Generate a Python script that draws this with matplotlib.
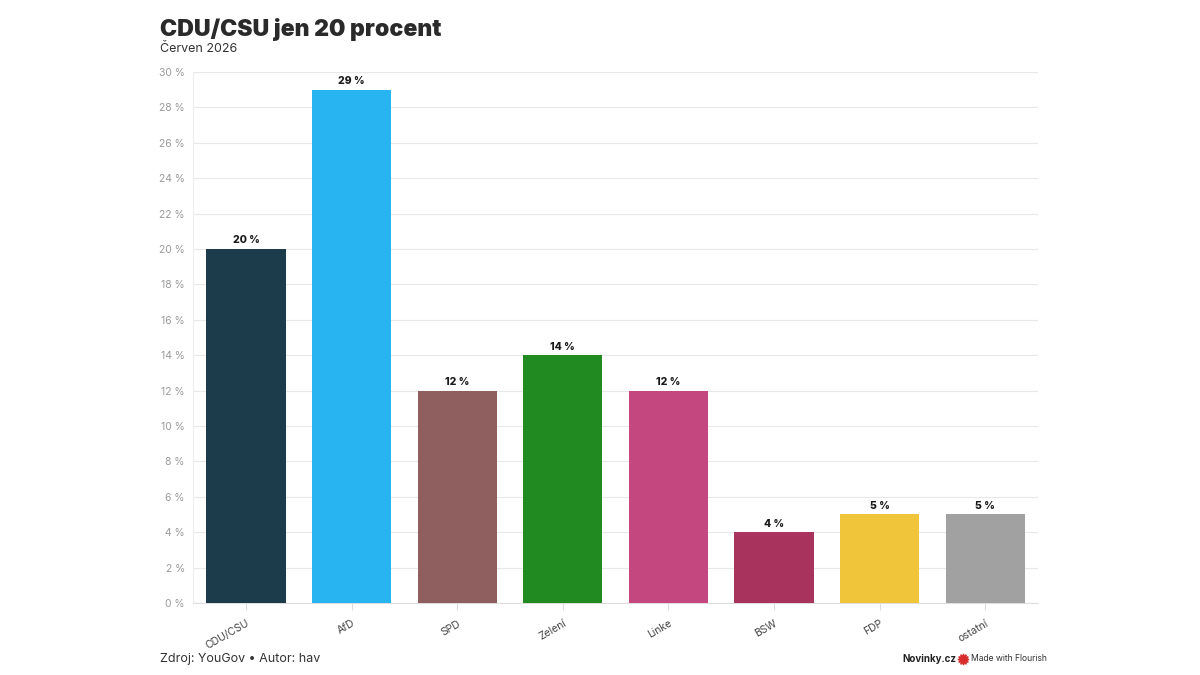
import matplotlib
matplotlib.use("Agg")
import matplotlib.pyplot as plt
from matplotlib.lines import Line2D

parties = ["CDU/CSU", "AfD", "SPD", "Zelení", "Linke", "BSW", "FDP", "ostatní"]
values = [20, 29, 12, 14, 12, 4, 5, 5]
colors = ["#1c3b4b", "#27b4f1", "#8f5f5f", "#218b22", "#c4487f", "#a8335c", "#f0c53a", "#a1a1a1"]
yticks = list(range(0, 31, 2))

plt.rcParams['font.family'] = ['Inter', 'DejaVu Sans']

fig = plt.figure(figsize=(12, 6.75), dpi=100)
ax = fig.add_axes([0.161, 0.1067, 0.704, 0.7866])

x = range(len(parties))
ax.bar(x, values, width=0.75, color=colors, zorder=3)
for i, v in enumerate(values):
    ax.text(i, v + 0.2, f"{v} %", ha='center', va='bottom', fontsize=7.5,
            fontweight='heavy', color='#1a1a1a')

ax.set_xlim(-0.5, 7.5)
ax.set_ylim(0, 30)
ax.set_yticks(yticks)
ax.set_yticklabels([f"{t} %" for t in yticks], fontsize=7.5, color='#9a9a9a')
ax.set_xticks(list(x))
ax.set_xticklabels(parties, rotation=30, ha='right', rotation_mode='anchor',
                   fontsize=7.5, color='#444444')
ax.tick_params(axis='y', length=0, pad=6)
ax.tick_params(axis='x', length=5, color='#dddddd', pad=6)
ax.grid(axis='y', color='#e8e8e8', linewidth=0.8, zorder=0)
for side in ['top', 'right']:
    ax.spines[side].set_visible(False)
ax.spines['left'].set_color('#eeeeee')
ax.spines['bottom'].set_color('#dddddd')

# titles and footer
fig.text(0.133, 0.957, "CDU/CSU jen 20 procent", fontsize=16.6, fontweight='black',
         color='#2a2a2a', va='center')
fig.text(0.133, 0.928, "Červen 2026", fontsize=9, color='#333333', va='center')
fig.text(0.133, 0.024, "Zdroj: YouGov • Autor: hav", fontsize=9, color='#333333', va='center')

fig.text(0.752, 0.024, "Novinky.cz", fontsize=7, fontweight='bold', color='#222222', va='center')
fig.add_artist(Line2D([0.8025], [0.024], marker=(12, 1, 0), markersize=8,
                      color='#d82b2b', transform=fig.transFigure))
fig.text(0.809, 0.024, "Made with Flourish", fontsize=6.2, color='#333333', va='center')

fig.savefig("out.png", dpi=100)
